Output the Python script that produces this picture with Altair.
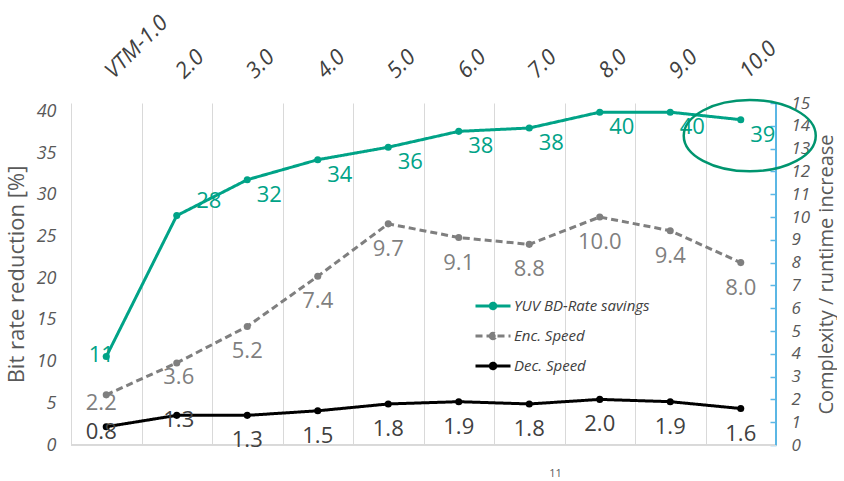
import altair as alt
import pandas as pd

# ---------------- data ----------------
versions = ["VTM-1.0", "2.0", "3.0", "4.0", "5.0", "6.0", "7.0", "8.0", "9.0", "10.0"]
yuv_savings = [10.6, 27.5, 31.8, 34.2, 35.7, 37.6, 38.0, 39.9, 39.9, 39.0]
yuv_labels = ["11", "28", "32", "34", "36", "38", "38", "40", "40", "39"]
enc_speed = [2.2, 3.6, 5.2, 7.4, 9.7, 9.1, 8.8, 10.0, 9.4, 8.0]
dec_speed = [0.8, 1.3, 1.3, 1.5, 1.8, 1.9, 1.8, 2.0, 1.9, 1.6]
series_names = ["YUV BD-Rate savings", "Enc. Speed", "Dec. Speed"]
highlight_version = "10.0"

# ---------------- styles ----------------
TEAL = "#00A387"
GRAY = "#7F7F7F"
BLACK = "#000000"
DEC_TXT = "#404040"
BLUE = "#5BB7E5"
CIRCLE = "#00956F"
AXIS_TXT = "#595959"
FONT = "Open Sans"
W, H = 705, 342

rows = []
for i, v in enumerate(versions):
    rows.append(dict(version=v, idx=i, series=series_names[0], value=yuv_savings[i], label=yuv_labels[i]))
    rows.append(dict(version=v, idx=i, series=series_names[1], value=enc_speed[i], label=f"{enc_speed[i]:.1f}"))
    rows.append(dict(version=v, idx=i, series=series_names[2], value=dec_speed[i], label=f"{dec_speed[i]:.1f}"))
df = pd.DataFrame(rows)
hl = pd.DataFrame({"version": [highlight_version],
                   "value": [yuv_savings[versions.index(highlight_version)]]})

x_enc = alt.X(
    "version:N", sort=versions,
    scale=alt.Scale(type="band", paddingInner=0, paddingOuter=0),
    axis=alt.Axis(orient="top", title=None, labelAngle=-45, labelAlign="left",
                  labelBaseline="middle", labelFont=FONT, labelFontStyle="italic",
                  labelFontSize=22, labelColor="#404040", labelPadding=29, labelOffset=2,
                  ticks=False, domain=False, grid=True, gridColor="#D9D9D9",
                  gridWidth=1, tickBand="extent"),
)

legend = alt.Legend(
    title=None, orient="none", legendX=408, legendY=189,
    symbolType="M-1.4,0L1.4,0M-0.22,0A0.22,0.22 0 1,0 0.22,0A0.22,0.22 0 1,0 -0.22,0",
    symbolSize=625, symbolStrokeWidth=3,
    symbolFillColor={"expr": "scale('color', datum.value)"},
    labelFont=FONT, labelFontStyle="italic", labelFontSize=15, labelColor="#404040",
    rowPadding=7, labelOffset=7,
)
color_enc = alt.Color("series:N",
                      scale=alt.Scale(domain=series_names, range=[TEAL, GRAY, BLACK]),
                      legend=legend)
dash_enc = alt.StrokeDash("series:N",
                          scale=alt.Scale(domain=series_names, range=[[1, 0], [7, 4], [1, 0]]),
                          legend=legend)

y_left = alt.Y(
    "value:Q", scale=alt.Scale(domain=[0, 41], nice=False),
    axis=alt.Axis(orient="left", values=list(range(0, 41, 5)), grid=False, ticks=False,
                  domain=False, labelFont=FONT, labelFontStyle="italic", labelFontSize=18,
                  labelColor=AXIS_TXT, labelPadding=15,
                  title="Bit rate reduction [%]", titleFont=FONT, titleFontSize=22,
                  titleFontWeight="normal", titleColor=AXIS_TXT, titlePadding=8),
)
y_right = alt.Y(
    "value:Q", scale=alt.Scale(domain=[0, 15], nice=False),
    axis=alt.Axis(orient="right", values=list(range(0, 16)), grid=False, domain=False,
                  ticks=True, tickSize=6, tickColor=BLUE, tickWidth=1.5, offset=-6,
                  labelFont=FONT, labelFontStyle="italic", labelFontSize=17,
                  labelColor=AXIS_TXT, labelPadding=15,
                  title="Complexity / runtime increase", titleAngle=270,
                  titleBaseline="top", titleFont=FONT,
                  titleFontSize=20, titleFontWeight="normal", titleColor=AXIS_TXT,
                  titlePadding=7),
)

base = alt.Chart(df)
yuv = base.transform_filter(alt.datum.series == series_names[0])
spd = base.transform_filter(alt.datum.series != series_names[0])
enc = base.transform_filter(alt.datum.series == series_names[1])
dec = base.transform_filter(alt.datum.series == series_names[2])

txt = dict(font=FONT, fontSize=22, align="center", baseline="middle", clip=False)


def labels(src, y, color, offsets):
    layers = []
    for cond, dx, dy in offsets:
        layers.append(src.transform_filter(cond).mark_text(dx=dx, dy=dy, color=color, **txt)
                      .encode(x=x_enc, y=y, text="label:N"))
    return layers


def dots(src, y, color):
    return src.mark_circle(size=50, opacity=1, color=color).encode(x=x_enc, y=y)


left_layer = alt.layer(
    yuv.mark_line(strokeWidth=3).encode(x=x_enc, y=y_left, color=color_enc, strokeDash=dash_enc),
    dots(yuv, y_left, TEAL),
    *labels(yuv, y_left, TEAL, [(alt.datum.idx == 0, -5, -2),
                                (alt.datum.idx == 1, 32, -15),
                                (alt.datum.idx > 1, 22, 15)]),
    alt.Chart(hl).mark_point(
        shape="M-1,0A1,0.54 0 1,0 1,0A1,0.54 0 1,0 -1,0", size=17424, filled=False,
        stroke=CIRCLE, strokeWidth=2.5, opacity=1, xOffset=9, yOffset=16,
    ).encode(x=x_enc, y=y_left),
)

right_layer = alt.layer(
    spd.mark_line(strokeWidth=3).encode(x=x_enc, y=y_right, color=color_enc, strokeDash=dash_enc),
    dots(enc, y_right, GRAY),
    dots(dec, y_right, BLACK),
    *labels(enc, y_right, GRAY, [(alt.datum.idx == 0, -5, 8),
                                 (alt.datum.idx == 1, 2, 14),
                                 (alt.datum.idx > 1, 0, 25)]),
    *labels(dec, y_right, DEC_TXT, [(alt.datum.idx == 0, -5, 5),
                                    (alt.datum.idx == 1, 2, 5),
                                    (alt.datum.idx > 1, 0, 25)]),
)

frame = alt.layer(
    alt.Chart(df).mark_rule(color="#D9D9D9", strokeWidth=1).encode(
        x=alt.value(0), x2=alt.value(W), y=alt.value(H)),
    alt.Chart(df).mark_rule(color=BLUE, strokeWidth=1.5).encode(
        x=alt.value(W), y=alt.value(0), y2=alt.value(H)),
)

chart = alt.layer(frame, left_layer, right_layer).resolve_scale(
    y="independent"
).properties(
    width=W, height=H, background="white",
    padding={"left": 5, "top": 10, "right": 0, "bottom": 0},
    title=alt.TitleParams("11", orient="bottom", fontSize=11, color=AXIS_TXT, font=FONT,
                          fontWeight="normal", dx=132, offset=14, anchor="middle"),
).configure_view(stroke=None)

chart.save("out.html", embed_options={"renderer": "svg", "actions": False})
